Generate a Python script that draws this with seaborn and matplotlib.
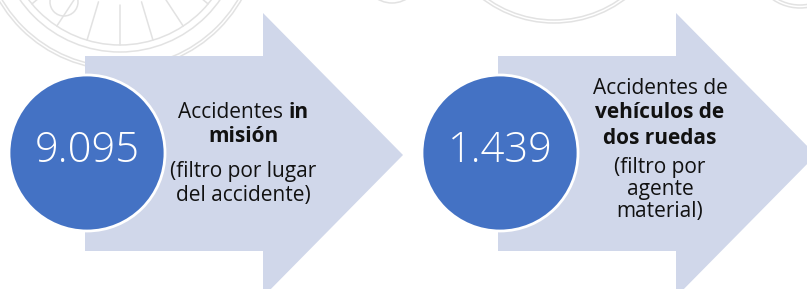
import matplotlib
matplotlib.use("Agg")
import matplotlib.pyplot as plt
import matplotlib.patches as mpatches
import numpy as np
import seaborn as sns

# values shown in the circles
totals = ["9.095", "1.439"]
# caption lines: (normal part, bold part)
titles = [
    [("Accidentes ", "in"), ("", "misión")],
    [("Accidentes de", ""), ("", "vehículos de"), ("", "dos ruedas")],
]
notes = [
    ["(filtro por lugar", "del accidente)"],
    ["(filtro por", "agente", "material)"],
]

sns.set_theme(style="white")
plt.rcParams["font.family"] = ["Open Sans", "DejaVu Sans"]

W, H = 807, 289
fig = plt.figure(figsize=(W / 100, H / 100), dpi=100)
ax = fig.add_axes([0, 0, 1, 1])
ax.set_xlim(0, W)
ax.set_ylim(H, 0)
ax.axis("off")

arrow_col = "#D0D7EA"
circ_col = "#4472C4"
seal_col = "#E2E2E2"

# faint seal watermark at top
for cx, cy, rads in [(120, -70, [140, 137, 122, 115]), (554, -95, [118, 115]),
                     (392, -25, [28]), (800, -40, [48, 45])]:
    for r in rads:
        ax.add_patch(mpatches.Circle((cx, cy), r, fill=False, ec=seal_col, lw=1.1, zorder=0))
for ang in np.linspace(40, 140, 7):
    a = np.radians(ang)
    ax.plot([120 + 75 * np.cos(a), 120 + 115 * np.cos(a)],
            [-70 + 75 * np.sin(a), -70 + 115 * np.sin(a)], color=seal_col, lw=1.1, zorder=0)
ax.add_patch(mpatches.Circle((64, 2), 14, fill=False, ec=seal_col, lw=1.1, zorder=0))

arrow_left = [85, 498]
circ_x = [87, 500]
text_x = [243, 660]
title_y = [[112, 137], [88, 113, 138]]
note_y = [[172, 195], [167, 189, 211]]

renderer = fig.canvas.get_renderer()


def mixed_line(x, y, normal, bold, size):
    t1 = ax.text(0, y, normal, fontsize=size, va="center", ha="left", color="#111111")
    t2 = ax.text(0, y, bold, fontsize=size, va="center", ha="left", fontweight="bold", color="#111111")
    w1 = t1.get_window_extent(renderer).width if normal else 0
    w2 = t2.get_window_extent(renderer).width if bold else 0
    x0 = x - (w1 + w2) / 2
    t1.set_x(x0)
    t2.set_x(x0 + w1)


for i in range(2):
    x0 = arrow_left[i]
    shaft_end = x0 + 178
    tip = x0 + 318
    pts = [(x0, 56), (shaft_end, 56), (shaft_end, 13), (tip, 155),
           (shaft_end, 297), (shaft_end, 251), (x0, 251)]
    ax.add_patch(mpatches.Polygon(pts, closed=True, fc=arrow_col, ec="none", zorder=1))
    ax.add_patch(mpatches.Circle((circ_x[i], 153), 78, fc=circ_col, ec="white", lw=2, zorder=2))
    ax.text(circ_x[i], 151, totals[i], fontsize=30, color="white", ha="center", va="center",
            fontweight="light", zorder=3)
    for (normal, bold), y in zip(titles[i], title_y[i]):
        mixed_line(text_x[i], y, normal, bold, 15)
    for line, y in zip(notes[i], note_y[i]):
        ax.text(text_x[i], y, line, fontsize=15, ha="center", va="center", color="#111111")

fig.savefig("out.png", dpi=100)
